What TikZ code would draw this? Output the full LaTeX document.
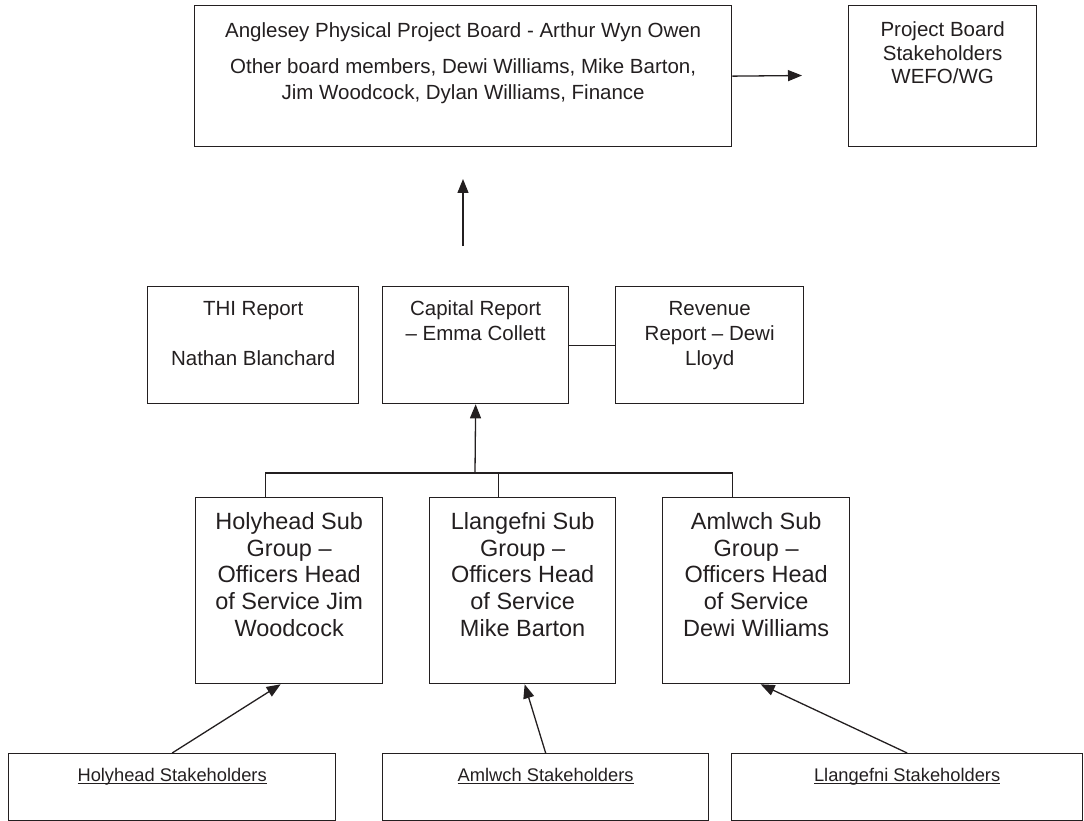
\documentclass[tikz,border=0pt]{standalone}
\usepackage{fontspec}
\setmainfont{Liberation Sans}
\usetikzlibrary{arrows.meta}
\definecolor{ink}{RGB}{35,31,32}
\newcommand\ulined[1]{\setbox0\hbox{#1}\rlap{\rule[-3pt]{\wd0}{1.3pt}}\box0}
\tikzset{
  bx/.style={draw=ink, line width=1.3pt, inner sep=0pt, anchor=north west, text=ink},
  conn/.style={draw=ink, line width=1.3pt},
  arr/.style={conn, -{Triangle[length=14pt,width=11pt]}}
}
\begin{document}
\begin{tikzpicture}[x=1pt,y=-1pt]
\useasboundingbox (0,0) rectangle (1084,821);
% top row
\node[bx] (top) at (194,5) {\parbox[c][141pt][t]{537pt}{\centering\fontsize{20.5pt}{26pt}\selectfont\vspace*{13.8pt}%
\strut Anglesey Physical Project Board - Arthur Wyn Owen\\[10pt]
Other board members, Dewi Williams, Mike Barton,\\
Jim Woodcock, Dylan Williams, Finance}};
\node[bx] (pbs) at (848,5) {\parbox[c][141pt][t]{188pt}{\centering\fontsize{20.5pt}{23.5pt}\selectfont\vspace*{14.5pt}%
\strut Project Board\\Stakeholders\\WEFO/WG}};
\coordinate (a1) at (802,75.5);
\draw[arr] (top.east) -- (a1);
\coordinate (v0) at (463,246);
\coordinate (v1) at (463,179);
\draw[arr] (v0) -- (v1);
% middle row
\node[bx] (thi) at (147,286) {\parbox[c][117pt][t]{211pt}{\centering\fontsize{20.5pt}{25pt}\selectfont\vspace*{11.5pt}%
\strut THI Report\\[25pt]Nathan Blanchard}};
\node[bx] (cap) at (382,286) {\parbox[c][117pt][t]{186pt}{\centering\fontsize{20.5pt}{25pt}\selectfont\vspace*{11.5pt}%
\strut Capital Report\\– Emma Collett}};
\node[bx] (rev) at (615,286) {\parbox[c][117pt][t]{188pt}{\centering\fontsize{20.5pt}{25pt}\selectfont\vspace*{11.5pt}%
\strut Revenue\\Report – Dewi\\Lloyd}};
\draw[conn] (cap.east) -- (rev.west);
% sub groups
\node[bx] (hsub) at (195,497) {\parbox[c][186pt][t]{187pt}{\centering\fontsize{23.5pt}{26.7pt}\selectfont\vspace*{13pt}%
\strut Holyhead Sub\\Group –\\Officers Head\\of Service Jim\\Woodcock}};
\node[bx] (lsub) at (429,497) {\parbox[c][186pt][t]{186pt}{\centering\fontsize{23.5pt}{26.7pt}\selectfont\vspace*{13pt}%
\strut Llangefni Sub\\Group –\\Officers Head\\of Service\\Mike Barton}};
\node[bx] (asub) at (662,497) {\parbox[c][186pt][t]{187pt}{\centering\fontsize{23.5pt}{26.7pt}\selectfont\vspace*{13pt}%
\strut Amlwch Sub\\Group –\\Officers Head\\of Service\\Dewi Williams}};
\coordinate (bus) at (475,473);
\draw[conn] ([xshift=-24pt]hsub.north) |- (bus) -| ([xshift=-24pt]asub.north);
\draw[conn] ([xshift=-24pt]lsub.north) -- ([xshift=-24pt]lsub.north |- bus);
\draw[arr] (bus) -- (cap.south);
% stakeholders
\node[bx] (hst) at (8,753) {\parbox[c][67pt][t]{327pt}{\centering\fontsize{18.3pt}{21pt}\selectfont\vspace*{13pt}%
\strut\ulined{Holyhead Stakeholders}}};
\node[bx] (mst) at (382,753) {\parbox[c][67pt][t]{326pt}{\centering\fontsize{18.3pt}{21pt}\selectfont\vspace*{13pt}%
\strut\ulined{Amlwch Stakeholders}}};
\node[bx] (lst) at (731,753) {\parbox[c][67pt][t]{351pt}{\centering\fontsize{18.3pt}{21pt}\selectfont\vspace*{13pt}%
\strut\ulined{Llangefni Stakeholders}}};
\draw[arr] (hst.north) -- ([xshift=-8.5pt]hsub.south);
\draw[arr] (mst.north) -- ([xshift=2pt]lsub.south);
\draw[arr] (lst.north) -- ([xshift=4.5pt]asub.south);
\end{tikzpicture}
\end{document}
